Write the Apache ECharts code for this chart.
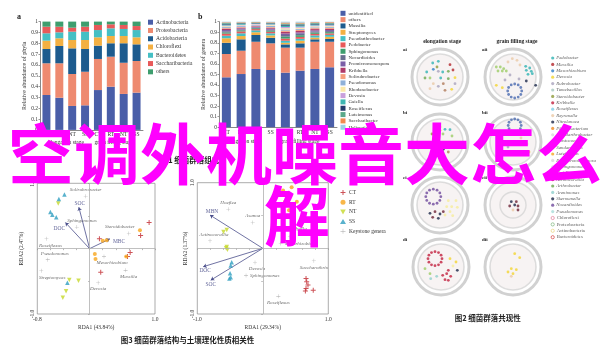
<!DOCTYPE html>
<html><head><meta charset="utf-8">
<script src="https://cdn.jsdelivr.net/npm/echarts@6/dist/echarts.min.js"></script>
<style>html,body{margin:0;padding:0;background:#fff}#c{width:600px;height:357px}</style>
</head><body><div id="c"></div>
<script>
// ---------- DATA ----------
const categories = ['CT','RT','NT','SS','CT ','RT ','NT ','SS '];
const stageLabels = ['elongation stage','grain filling stage'];

const phyla = ['Actinobacteria','Proteobacteria','Acidobacteria','Chloroflexi','Bacteroidetes','Saccharibacteria','others'];
const actinobacteria   = [0.322,0.297,0.221,0.227,0.368,0.399,0.332,0.344];
const proteobacteria   = [0.293,0.318,0.295,0.310,0.287,0.277,0.288,0.292];
const acidobacteria    = [0.132,0.160,0.237,0.210,0.123,0.124,0.180,0.154];
const chloroflexi      = [0.077,0.071,0.077,0.083,0.077,0.067,0.067,0.065];
const bacteroidetes    = [0.068,0.055,0.077,0.077,0.067,0.071,0.065,0.067];
const saccharibacteria = [0.061,0.052,0.037,0.046,0.047,0.037,0.037,0.037];
const phylaOthers      = [0.047,0.047,0.056,0.047,0.031,0.025,0.031,0.041];
const phylaValues = [actinobacteria,proteobacteria,acidobacteria,chloroflexi,bacteroidetes,saccharibacteria,phylaOthers];

const genera = ['unidentified','others ','Massilia','Streptomyces','Pseudarthrobacter','Pedobacter','Sphingomonas','Nocardioides','Promicromonospora','Kribbella','Solirubrobacter','Pseudomonas','Rhodanobacter','Devosia','Gaiella','Roseiflexus','Luteimonas','Saccharibacter','Haliangium'];
const gUnidentified = [0.473,0.504,0.552,0.542,0.517,0.536,0.552,0.568];
const gOthers       = [0.221,0.221,0.258,0.253,0.237,0.218,0.258,0.242];
const gMassilia     = [0.106,0.108,0.064,0.053,0.031,0.041,0.023,0.026];
const gStreptomyces = [0.043,0.031,0.026,0.022,0.015,0.025,0.017,0.021];
const gPseudarthro  = [0.024,0.026,0.018,0.020,0.020,0.018,0.020,0.018];
const gPedobacter   = [0.020,0.018,0.012,0.015,0.020,0.018,0.015,0.014];
const gSphingomonas = [0.012,0.010,0.008,0.010,0.018,0.016,0.012,0.012];
const gNocardioides = [0.010,0.008,0.006,0.009,0.016,0.014,0.011,0.010];
const gPromicro     = [0.012,0.010,0.007,0.010,0.014,0.012,0.010,0.010];
const gKribbella    = [0.010,0.008,0.006,0.008,0.016,0.014,0.012,0.011];
const gSolirubro    = [0.008,0.007,0.005,0.007,0.012,0.011,0.009,0.009];
const gPseudomonas  = [0.010,0.008,0.007,0.012,0.010,0.009,0.008,0.008];
const gRhodanobacter= [0.008,0.006,0.005,0.007,0.012,0.011,0.009,0.009];
const gDevosia      = [0.007,0.006,0.005,0.006,0.012,0.010,0.008,0.008];
const gGaiella      = [0.009,0.007,0.005,0.006,0.012,0.011,0.009,0.008];
const gRoseiflexus  = [0.008,0.006,0.005,0.005,0.010,0.009,0.008,0.008];
const gLuteimonas   = [0.007,0.006,0.004,0.005,0.010,0.009,0.007,0.007];
const gSaccharibac  = [0.006,0.005,0.004,0.005,0.010,0.009,0.007,0.007];
const gHaliangium   = [0.006,0.005,0.003,0.005,0.008,0.009,0.005,0.004];
const generaValues = [gUnidentified,gOthers,gMassilia,gStreptomyces,gPseudarthro,gPedobacter,gSphingomonas,gNocardioides,gPromicro,gKribbella,gSolirubro,gPseudomonas,gRhodanobacter,gDevosia,gGaiella,gRoseiflexus,gLuteimonas,gSaccharibac,gHaliangium];

const yTicks = [0,0.1,0.2,0.3,0.4,0.5,0.6,0.7,0.8,0.9,1];

// RDA 1
const rda1CT = [[0.91,0.40],[0.78,0.20],[0.15,0.15],[0.62,-0.06],[0.58,-0.12],[0.17,-0.36]];
const rda1RT = [[0.77,0.28],[0.20,0.12],[0.08,-0.08],[0.09,-0.16],[0.56,-0.12],[0.26,0.13]];
const rda1NT = [[-0.48,0.69],[-0.31,-0.48],[-0.17,-0.49],[-0.41,-0.75],[-0.36,-0.65]];
const rda1SS = [[-0.47,0.76],[-0.385,0.83],[-0.60,0.56],[-0.51,0.48],[-0.57,0.52],[-0.34,-0.52]];
const rda1Genera = ['Solirubrobacter','Sphingomonas','Steroidobacter','Roseiflexus','Pseudomonas','Streptomyces','Mesorhizobium','Massilia','Devosia'];
const rda1GeneraXY = [[-0.06,0.80],[-0.195,0.33],[0.60,0.23],[-0.66,0.15],[-0.64,-0.17],[-0.74,-0.34],[0.22,-0.12],[0.55,-0.33],[0.13,-0.52]];
const rda1Vars = ['SOC','DOC','MBC'];
const rda1VarXY = [[-0.165,0.635],[-0.37,0.40],[0.31,0.15]];
const rda1XTicks = [-0.8,1.0];

// RDA 2
const rda2CT = [[0.66,-0.46],[0.67,-0.51],[0.69,-0.56],[0.66,-0.61],[0.65,-0.65],[0.77,-0.64]];
const rda2RT = [[0.44,0.93],[0.31,0.88],[0.52,0.71],[0.34,0.71],[0.40,0.58]];
const rda2NT = [[-0.60,0.25],[-0.55,0.28],[-0.55,0.02],[-0.56,0.0],[-0.54,-0.02]];
const rda2SS = [[-0.475,-0.21],[-0.49,-0.26],[-0.50,-0.38],[-0.49,-0.44],[-0.51,-0.46]];
const rda2Genera = ['Hoeflea','Asanoa','Actinocorallia','Devosia','Sphingomonas','Saccharothrix','Roseiflexus','Dyella','Mesorhizobium'];
const rda2GeneraXY = [[-0.527,0.594],[-0.154,0.395],[-0.806,0.115],[-0.119,-0.215],[-0.256,-0.414],[0.78,-0.19],[0.237,-0.73],[0.415,0.176],[0.273,0.075]];
const rda2Vars = ['MBN','DOC','SOC'];
const rda2VarXY = [[-0.806,0.507],[-0.91,-0.28],[-0.795,-0.485]];
const rda2XTicks = [-1.0,1.0];
const rdaYTicks = [-1.0,1.0];
const treatments = ['CT','RT','NT','SS','Keystone genera'];

// Co-occurrence network panels (layout units)
const netPanels = ['ai','aii','bi','bii','ci','cii','di','dii'];
const netCenters = [[60,47],[133,47],[60,112],[133,112],[60,175],[133,175],[61,237],[133,237]];
const ring12 = [[1,0],[0.87,0.5],[0.5,0.87],[0,1],[-0.5,0.87],[-0.87,0.5],[-1,0],[-0.87,-0.5],[-0.5,-0.87],[0,-1],[0.5,-0.87],[0.87,-0.5]];
const netRings = [ // panel index, centre offset, radius, colour key
  [1, [1.7,14], 7, 'rblue'],
  [3, [1.7,-16.5], 6.5, 'rblue'],
  [4, [-6.7,-8.3], 7.5, 'purple'],
  [6, [-6,-8.3], 7, 'crimson']
];
const netNodes = [
  [[-7.3,-14,'teal'],[-1.7,-15.7,'teal'],[10,-12.3,'red'],[-6.7,-7.7,'blue'],[2.7,-5,'teal'],[8.3,-5.7,'green'],[-1.7,-5.7,'gray'],[-15,1,'green'],[-10,1,'lgreen'],[0.7,1,'teal'],[8.3,1.7,'green'],[15,0.7,'yellow'],[-6.7,6.7,'tan'],[-1.7,9.3,'gray'],[3.3,6.7,'brown'],[-10,11.7,'tan'],[11.7,12.3,'yellow'],[5,13.3,'brown'],[15,6.7,'gray'],[-13.3,-5,'teal'],[13,-7,'red'],[-3,-10,'olive']],
  [[-16.7,-10,'lgreen'],[-12.7,-10,'lgreen'],[-9.3,-8.3,'lgreen'],[-15,-6,'lgreen'],[-10.7,-6,'lgreen'],[-6.7,-6,'lgreen'],[12.7,-10.7,'teal'],[16.7,-9,'teal'],[13.3,-6.7,'teal'],[18.3,-5.7,'teal'],[15,-2.7,'teal'],[19.3,-3.3,'teal'],[-0.7,-18.3,'tan'],[4,-16.7,'tan'],[-5,-15,'tan'],[7,-12,'tan'],[13.3,4,'navy'],[22.7,8.3,'navy'],[-16.7,8.3,'yellow'],[-10.7,10.7,'yellow'],[-3,-2,'gray'],[6,2,'gray'],[-8,3,'gray']],
  [[-5,-13.3,'lgreen'],[0,-15,'yellow'],[5,-12.7,'teal'],[10,-12.3,'teal'],[0,-11.7,'yellow'],[3,-8,'lgreen'],[-8,-8,'olive'],[12,-6,'lgreen'],[8.3,10,'brown'],[3.3,7.3,'navy'],[-6,4,'gray'],[10,3,'tan']],
  [[-10,0,'navy'],[-5,5,'gray'],[8,-4,'tan'],[14,2,'tan'],[-14,-6,'gray'],[5,10,'gray'],[-8,12,'tan'],[16,10,'yellow']],
  [[8.3,-4.3,'lyellow'],[16,-4.3,'lyellow'],[6.7,1.7,'lyellow'],[11.7,1.7,'lyellow'],[17.3,2.3,'lyellow'],[10,6.7,'lyellow'],[5,10,'lyellow'],[12.7,10.7,'lyellow'],[-10,8.3,'navy'],[-5,6.7,'maroon'],[0,9,'navy'],[-7.3,12.3,'maroon'],[-1.7,13.3,'navy'],[3.3,6.7,'maroon']],
  [[-1.7,-3.3,'navy'],[3.3,-3.3,'maroon'],[-3.3,1,'maroon'],[1.7,0,'navy'],[5,1,'maroon'],[0,5,'tan'],[5,5,'maroon']],
  [[9,-8.3,'yellow'],[15,-5,'yellow'],[12,-1,'lyellow'],[-16,1.7,'lgreen'],[-11,6.7,'lgreen'],[-10.3,11.7,'lteal'],[-4.3,9.3,'lteal'],[1.7,8.3,'crimson'],[5.7,6.7,'crimson'],[9.7,9.3,'crimson'],[4,12.7,'crimson'],[7.3,13.3,'crimson'],[7.3,3.3,'crimson'],[16.3,3.3,'navy']],
  [[1.7,-13.3,'yellow'],[6.7,-9.3,'yellow'],[-1.7,1.7,'yellow'],[3.3,2.7,'yellow'],[0,6.7,'yellow'],[-5,5,'yellow'],[-1.7,9.3,'tan']]
];
const netTaxa = ['Pedobacter','Massilia','Mesorhizobium','Devosia','Rubrobacter','Tumebacillus','Steroidobacter','Kribbella','Roseiflexus','Reyranella','Nitrolancea','Phyllobacterium','Pseudarthrobacter','Blastococcus','Sandaracinus','Luteimonas','Promicromonospora','Sphingomonas','Gaiella','Actinocorallia','Arthrobacter','Arenimonas','Skermanella','Nocardioides','Pseudomonas','Chloroflexi','Proteobacteria','Actinobacteria','Bacteroidetes'];
const netTaxaColor = ['teal','red','blue','yellow','gray','lteal2','olive','crimson','lblue','tan','navy','orange','lgray','white','ygreen','orange2','lgray','lgray','red2','red','green','lteal','navy','purple','lteal3','hpink','hgreen','hyellow','hred'];

// ---------- STYLE ----------
const SERIF = '"Liberation Serif","DejaVu Serif",serif';
const CJK = '"Noto Sans CJK SC","Noto Sans CJK JP",sans-serif';
const phylaColors = ['#4a5ea8','#ee8a70','#1d5b8e','#f4b042','#45bfc4','#e85a5a','#3e9e6e'];
const generaColors = ['#4a5ea8','#ee8a70','#1d5b8e','#f4b042','#45bfc4','#e85a5a','#3e9e6e','#6a6f8f','#7b5ea7','#b03a6a','#f6a07e','#8fb0d8','#fbe8a8','#c9a0dc','#3fb6b2','#243b6b','#5aa88a','#f08a50','#9dd0e8'];
const dotColor = {teal:'#2fb3b3',red:'#b3262b',blue:'#2f7fc8',yellow:'#f3d431',lyellow:'#f6ec9a',gray:'#a9a3bd',lgreen:'#9ccc65',green:'#6aa84f',olive:'#8d9a3a',tan:'#eac9a6',brown:'#b07a5a',navy:'#1b2748',maroon:'#6d2336',crimson:'#c2203f',purple:'#6f4a9c',rblue:'#4a6ab0',lteal:'#8fd0cc',lteal2:'#a8c8c0',lteal3:'#a8dcd8',lblue:'#7fd0e8',orange:'#f08a24',orange2:'#f5a623',lgray:'#d8d8d8',white:'#f4f4f4',ygreen:'#b8d83a',red2:'#d03030',
  hpink:'#e07090',hgreen:'#70b070',hyellow:'#e8d070',hred:'#d03030'};
const PLUS = 'path://M4,0H6V4H10V6H6V10H4V6H0V4H4Z';
const THINPLUS = 'path://M4.6,0H5.4V4.6H10V5.4H5.4V10H4.6V5.4H0V4.6H4.6Z';
const DTRI = 'path://M0,0L10,0L5,9Z';
const treatStyle = {
  CT:{symbol:PLUS,color:'#c0272d',size:5},
  RT:{symbol:'circle',color:'#f7a51c',size:4},
  NT:{symbol:DTRI,color:'#c5d82b',size:4.5},
  SS:{symbol:'triangle',color:'#2f9fc0',size:4.5},
  'Keystone genera':{symbol:THINPLUS,color:'#8a8a8a',size:4}
};
const rda1LabelPos = [['top',[0,0]],['top',[5,0]],['top',[-9,0]],['bottom',[4,0]],['top',[7,0]],['bottom',[11,0]],['bottom',[8,0]],['bottom',[3,0]],['bottom',[0,0]]];
const rda1VarPos = [['top',[1,0]],['bottom',[-6,2]],['right',[2,3]]];
const rda2LabelPos = [['top',[0,0]],['top',[0,0]],['top',[4,0]],['bottom',[2,0]],['right',[0,0]],['bottom',[0,0]],['bottom',[0,0]],['top',[10,-2]],['right',[0,0]]];
const rda2VarPos = [['top',[2,0]],['bottom',[2,0]],['bottom',[0,0]]];

// ---------- BUILD ----------
const series = [];
phyla.forEach((n,i)=>series.push({type:'bar',name:n,stack:'a',xAxisIndex:0,yAxisIndex:0,barWidth:'62%',data:phylaValues[i],itemStyle:{color:phylaColors[i]}}));
genera.forEach((n,i)=>series.push({type:'bar',name:n,stack:'b',xAxisIndex:1,yAxisIndex:1,barWidth:'61%',data:generaValues[i],itemStyle:{color:generaColors[i]}}));

function rdaSeries(ax, groups, gen, genXY, genPos, vars, varXY, varPos){
  const names=['CT','RT','NT','SS'];
  names.forEach((n,i)=>{
    const s=treatStyle[n];
    series.push({type:'scatter',name:n,xAxisIndex:ax,yAxisIndex:ax,symbol:s.symbol,symbolSize:s.size,itemStyle:{color:s.color},data:groups[i],z:4});
  });
  const ks=treatStyle['Keystone genera'];
  series.push({type:'scatter',name:'Keystone genera',xAxisIndex:ax,yAxisIndex:ax,symbol:ks.symbol,symbolSize:ks.size,itemStyle:{color:ks.color},z:3,
    data:gen.map((g,i)=>({name:g,value:genXY[i],label:{position:genPos[i][0],offset:genPos[i][1]}})),
    label:{show:true,formatter:'{b}',fontSize:5,fontStyle:'italic',fontFamily:SERIF,color:'#444',distance:2},
    markLine:{silent:true,symbol:'none',label:{show:false},lineStyle:{color:'#b0b0b0',width:0.8,type:'solid'},data:[{xAxis:0},{yAxis:0}]}
  });
  series.push({type:'lines',coordinateSystem:'cartesian2d',xAxisIndex:ax,yAxisIndex:ax,symbol:['none','arrow'],symbolSize:3.5,
    lineStyle:{color:'#4b4f8c',width:0.8,opacity:1},data:varXY.map(p=>({coords:[[0,0],p]})),z:3});
  series.push({type:'scatter',xAxisIndex:ax,yAxisIndex:ax,symbolSize:0,silent:true,
    data:vars.map((v,i)=>({name:v,value:varXY[i],label:{position:varPos[i][0],offset:varPos[i][1]}})),
    label:{show:true,formatter:'{b}',fontSize:5.5,fontFamily:SERIF,color:'#3b3f80',distance:1}});
}
rdaSeries(2,[rda1CT,rda1RT,rda1NT,rda1SS],rda1Genera,rda1GeneraXY,rda1LabelPos,rda1Vars,rda1VarXY,rda1VarPos);
rdaSeries(3,[rda2CT,rda2RT,rda2NT,rda2SS],rda2Genera,rda2GeneraXY,rda2LabelPos,rda2Vars,rda2VarXY,rda2VarPos);

// network panels
series.push({type:'scatter',xAxisIndex:4,yAxisIndex:4,silent:true,symbolSize:56,z:2,
  itemStyle:{color:'#ffffff',borderColor:'#c6c6c6',borderWidth:3},data:netCenters});
series.push({type:'scatter',xAxisIndex:4,yAxisIndex:4,silent:true,symbolSize:46,z:2,
  itemStyle:{color:'#f5f0f0',borderColor:'#d4d4d4',borderWidth:1.6},data:netCenters});
series.push({type:'scatter',xAxisIndex:4,yAxisIndex:4,silent:true,symbolSize:26,z:2,
  itemStyle:{color:'transparent',borderColor:'#d4d4d4',borderWidth:1.4},data:[netCenters[5]]});
const nodeData=[];
netNodes.forEach((arr,pi)=>arr.forEach(d=>nodeData.push({value:[netCenters[pi][0]+d[0],netCenters[pi][1]+d[1]],itemStyle:{color:dotColor[d[2]]}})));
netRings.forEach(r=>{const c=netCenters[r[0]];ring12.forEach(u=>nodeData.push({value:[c[0]+r[1][0]+u[0]*r[2],c[1]+r[1][1]+u[1]*r[2]],itemStyle:{color:dotColor[r[3]]}}));});
series.push({type:'scatter',xAxisIndex:4,yAxisIndex:4,silent:true,symbolSize:2.8,z:3,data:nodeData});
series.push({type:'scatter',xAxisIndex:4,yAxisIndex:4,silent:true,symbolSize:3.2,z:3,
  data:netTaxa.map((n,i)=>{const k=netTaxaColor[i];const hollow=k[0]==='h';
    return {name:n,value:[172.7,28+6.4*i],itemStyle:hollow?{color:'#fff',borderColor:dotColor[k],borderWidth:0.8}:{color:dotColor[k]},
      label:{fontStyle:i>=25?'normal':'italic'}};}),
  label:{show:true,position:'right',distance:2,formatter:'{b}',fontSize:4.8,fontFamily:SERIF,color:'#333'}});

const axisTxt = {fontSize:5.5,fontFamily:SERIF,color:'#333'};
const option = {
  animation:false,
  backgroundColor:'#fff',
  grid:[
    {left:40,top:21.6,width:103,height:108.3},
    {left:219,top:21.7,width:118,height:105.5},
    {left:37.3,top:183.3,width:117.7,height:130.7,show:true,borderColor:'#888',borderWidth:0.7},
    {left:197.3,top:182.7,width:131,height:131.3,show:true,borderColor:'#888',borderWidth:0.7},
    {left:380,top:30,width:220,height:300}
  ],
  xAxis:[
    {type:'category',gridIndex:0,data:categories,axisLine:{lineStyle:{color:'#555',width:0.7}},axisTick:{show:false},axisLabel:Object.assign({margin:2,interval:0,formatter:v=>v.trim()},axisTxt)},
    {type:'category',gridIndex:1,data:categories,axisLine:{lineStyle:{color:'#555',width:0.7}},axisTick:{show:false},axisLabel:Object.assign({margin:2,interval:0,formatter:v=>v.trim()},axisTxt)},
    {type:'value',gridIndex:2,min:-0.8,max:1.0,splitLine:{show:false},axisLine:{show:false},
      axisTick:{show:true,length:1.5,lineStyle:{color:'#888',width:0.6},customValues:[-0.8,-0.6,-0.4,-0.2,0,0.2,0.4,0.6,0.8,1.0]},
      axisLabel:Object.assign({margin:3,customValues:rda1XTicks,formatter:v=>v.toFixed(1)},axisTxt),
      name:'RDA1 (43.84%)',nameLocation:'middle',nameGap:11,nameTextStyle:{fontSize:5.5,fontFamily:SERIF,color:'#333'}},
    {type:'value',gridIndex:3,min:-1.0,max:1.0,splitLine:{show:false},axisLine:{show:false},
      axisTick:{show:true,length:1.5,lineStyle:{color:'#888',width:0.6},customValues:[-1,-0.8,-0.6,-0.4,-0.2,0,0.2,0.4,0.6,0.8,1.0]},
      axisLabel:Object.assign({margin:3,customValues:rda2XTicks,formatter:v=>v.toFixed(1)},axisTxt),
      name:'RDA1 (29.34%)',nameLocation:'middle',nameGap:11,nameTextStyle:{fontSize:5.5,fontFamily:SERIF,color:'#333'}},
    {type:'value',gridIndex:4,min:0,max:220,show:false}
  ],
  yAxis:[
    {type:'value',gridIndex:0,min:0,max:1,interval:0.1,splitLine:{show:false},axisLine:{show:true,lineStyle:{color:'#555',width:0.7}},axisTick:{show:true,length:1.5,lineStyle:{color:'#555',width:0.6}},
      axisLabel:Object.assign({margin:2,customValues:yTicks,formatter:v=>(v===0||v===1)?String(v):v.toFixed(1)},axisTxt),
      name:'Relative abundance of phyla',nameLocation:'middle',nameGap:12,nameTextStyle:{fontSize:6,fontFamily:SERIF,color:'#333'}},
    {type:'value',gridIndex:1,min:0,max:1,interval:0.1,splitLine:{show:false},axisLine:{show:true,lineStyle:{color:'#555',width:0.7}},axisTick:{show:true,length:1.5,lineStyle:{color:'#555',width:0.6}},
      axisLabel:Object.assign({margin:2,customValues:yTicks,formatter:v=>(v===0||v===1)?String(v):v.toFixed(1)},axisTxt),
      name:'Relative abundance of genera',nameLocation:'middle',nameGap:12,nameTextStyle:{fontSize:6,fontFamily:SERIF,color:'#333'}},
    {type:'value',gridIndex:2,min:-1,max:1,splitLine:{show:false},axisLine:{show:false},
      axisTick:{show:true,length:1.5,lineStyle:{color:'#888',width:0.6},customValues:[-1,-0.5,0,0.5,1]},
      axisLabel:Object.assign({margin:2,rotate:90,customValues:rdaYTicks,formatter:v=>v.toFixed(1)},axisTxt),
      name:'RDA2 (2.47%)',nameLocation:'middle',nameGap:13,nameTextStyle:{fontSize:5.5,fontFamily:SERIF,color:'#333'}},
    {type:'value',gridIndex:3,min:-1,max:1,splitLine:{show:false},axisLine:{show:false},
      axisTick:{show:true,length:1.5,lineStyle:{color:'#888',width:0.6},customValues:[-1,-0.5,0,0.5,1]},
      axisLabel:Object.assign({margin:2,rotate:90,customValues:rdaYTicks,formatter:v=>v.toFixed(1)},axisTxt),
      name:'RDA2 (1.37%)',nameLocation:'middle',nameGap:8,nameTextStyle:{fontSize:5.5,fontFamily:SERIF,color:'#333'}},
    {type:'value',gridIndex:4,min:0,max:300,inverse:true,show:false}
  ],
  legend:[
    {data:phyla,orient:'vertical',left:148,top:19.2,padding:0,itemWidth:5,itemHeight:5,itemGap:2.27,icon:'rect',selectedMode:false,
      textStyle:{fontSize:5.5,lineHeight:5,fontFamily:SERIF,color:'#333',padding:[0,0,0,-2]}},
    {data:genera,orient:'vertical',left:340.5,top:10.8,padding:0,itemWidth:5,itemHeight:5,itemGap:1.33,icon:'rect',selectedMode:false,
      textStyle:{fontSize:5,lineHeight:5,fontFamily:SERIF,color:'#333',padding:[0,0,0,-2]}},
    {data:treatments,orient:'vertical',left:340,top:189.5,padding:0,itemWidth:6,itemHeight:5,itemGap:3.7,selectedMode:false,
      textStyle:{fontSize:5.5,lineHeight:5,fontFamily:SERIF,color:'#333',padding:[0,0,0,-2]}}
  ],
  graphic:[
    {type:'text',x:17,y:17,style:{text:'a',font:'bold 8px '+SERIF,fill:'#222',align:'left',verticalAlign:'middle'}},
    {type:'text',x:198,y:17,style:{text:'b',font:'bold 8px '+SERIF,fill:'#222',align:'left',verticalAlign:'middle'}},
    {type:'text',x:66,y:142.5,style:{text:stageLabels[0],font:'5.5px '+SERIF,fill:'#333',align:'center',verticalAlign:'middle'}},
    {type:'text',x:114,y:142.5,style:{text:stageLabels[1],font:'5.5px '+SERIF,fill:'#333',align:'center',verticalAlign:'middle'}},
    {type:'text',x:244,y:142,style:{text:stageLabels[0],font:'5.5px '+SERIF,fill:'#333',align:'center',verticalAlign:'middle'}},
    {type:'text',x:300,y:142,style:{text:stageLabels[1],font:'5.5px '+SERIF,fill:'#333',align:'center',verticalAlign:'middle'}},
    {type:'text',x:190,y:160,style:{text:'图1 细菌群落组成',font:'bold 7.5px '+CJK,fill:'#222',align:'center',verticalAlign:'middle'}},
    {type:'text',x:187.5,y:340,style:{text:'图3 细菌群落结构与土壤理化性质相关性',font:'bold 7.5px '+CJK,fill:'#222',align:'center',verticalAlign:'middle'}},
    {type:'text',x:487.7,y:318,style:{text:'图2 细菌群落共现性',font:'bold 7.5px '+CJK,fill:'#222',align:'center',verticalAlign:'middle'}},
    {type:'text',x:442,y:42,style:{text:stageLabels[0],font:'bold 5.5px '+SERIF,fill:'#222',align:'center',verticalAlign:'middle'}},
    {type:'text',x:517,y:42,style:{text:stageLabels[1],font:'bold 5.5px '+SERIF,fill:'#222',align:'center',verticalAlign:'middle'}},
    ...netPanels.map((p,i)=>({type:'text',x:(i%2?482:403),y:[50,50,113,113,178,178,240,240][i],style:{text:p,font:'bold 5px '+SERIF,fill:'#222',align:'left',verticalAlign:'middle'}})),
    {type:'text',x:8,y:154,z:100,style:{text:'空调外机噪音大怎么',font:'bold 66px '+CJK,fill:'#ff00ff',align:'left',verticalAlign:'middle'}},
    {type:'text',x:297,y:215.5,z:100,style:{text:'解',font:'bold 66px '+CJK,fill:'#ff00ff',align:'center',verticalAlign:'middle'}}
  ],
  series:series
};
const chart = echarts.init(document.getElementById('c'),null,{renderer:'canvas'});
chart.setOption(option);
</script>
</body></html>
